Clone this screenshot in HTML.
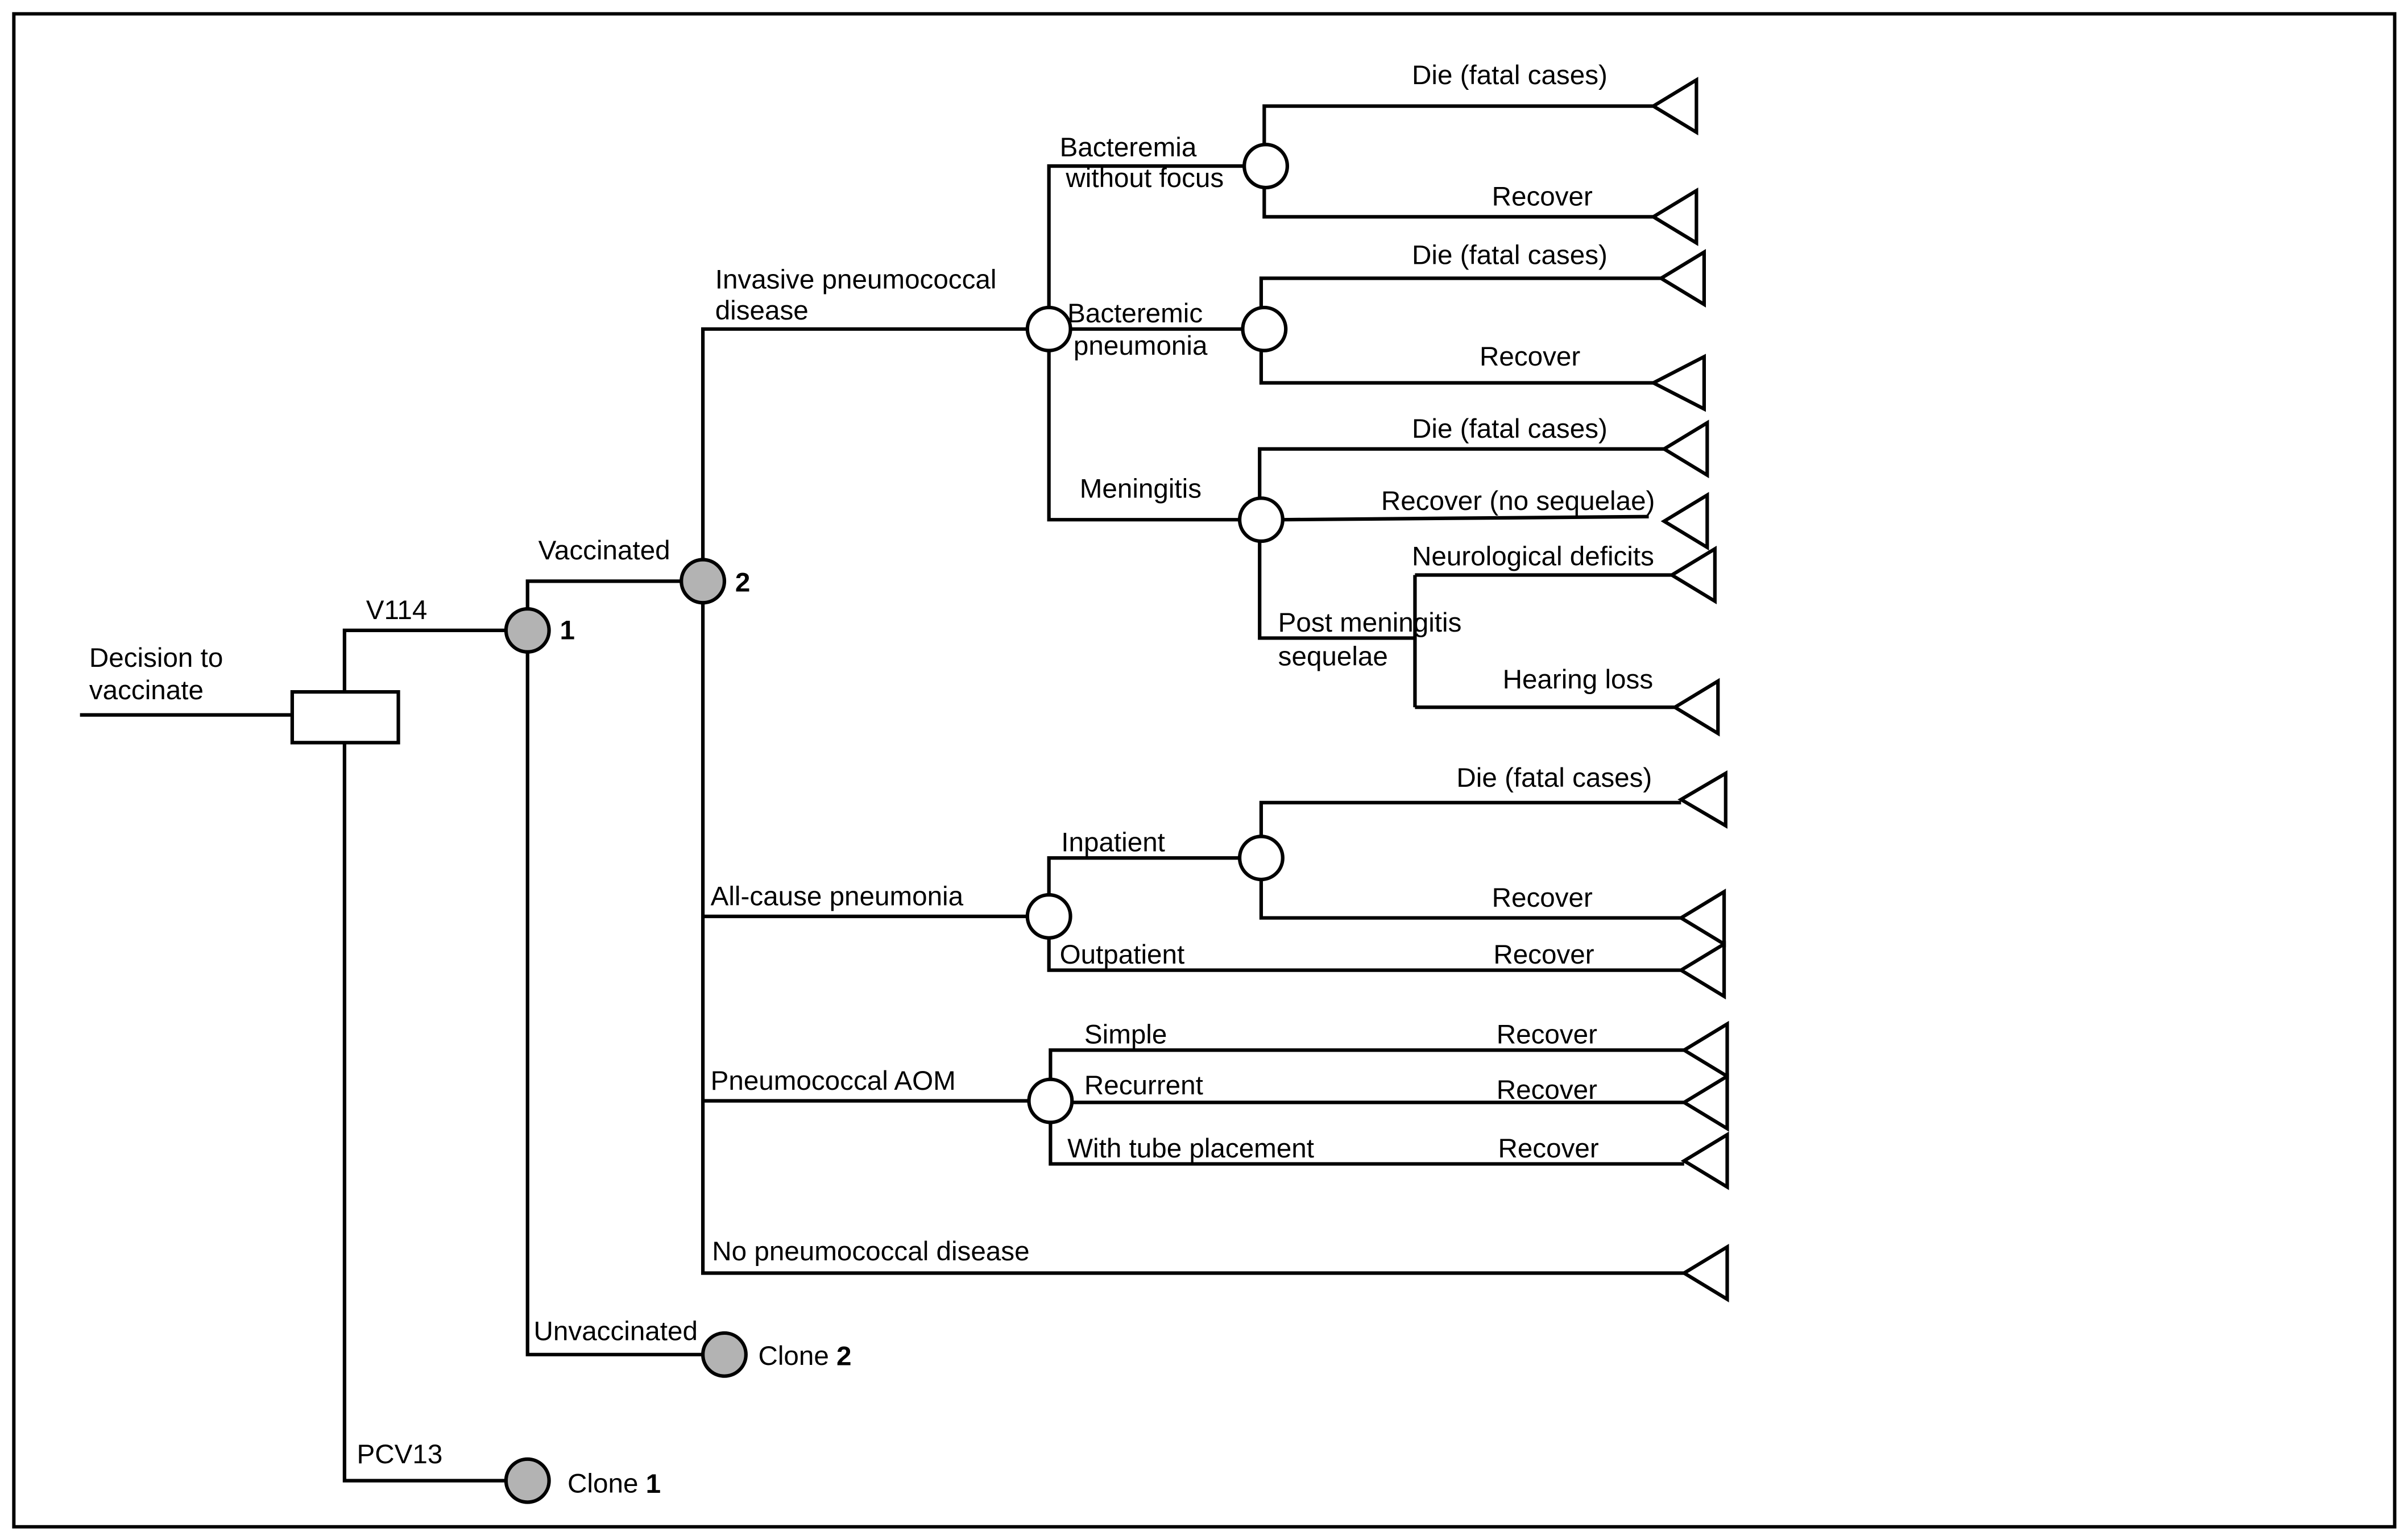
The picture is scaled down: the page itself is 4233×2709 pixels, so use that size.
<!DOCTYPE html>
<html><head><meta charset="utf-8"><style>html,body{margin:0;padding:0;background:#fff}svg{display:block}</style></head>
<body>
<svg width="4233" height="2709" viewBox="0 0 1565 1001.6" preserveAspectRatio="none" xmlns="http://www.w3.org/2000/svg">
<rect x="0" y="0" width="1565" height="1002" fill="#fff"/>
<rect x="9" y="9" width="1548" height="984" fill="none" stroke="#000" stroke-width="2.2"/>
<g fill="none" stroke="#000" stroke-width="2.3">
<path d="M52 465H190"/>
<path d="M224 450V410H328M224 483V963H329"/>
<path d="M343 396V378H442M343 424V881H457"/>
<path d="M457 364V214H668M457 392V828H1095M457 596H668M457 716H669"/>
<path d="M682 200V108H809M696 214H808M682 228V338H806"/>
<path d="M822 94V69H1075M822 122V141H1075"/>
<path d="M820 200V181H1080M820 228V249H1075"/>
<path d="M819 324V292H1082M834 338L1072 336M819 352V415H920M920 374V460M920 374H1087M920 460H1089"/>
<path d="M682 582V558H806M682 610V631H1093M820 544V522H1093M820 572V597H1093"/>
<path d="M683 702V683H1095M697 717H1095M683 730V757H1095"/>
</g>
<rect x="190" y="450" width="69" height="33" fill="#fff" stroke="#000" stroke-width="2.3"/>
<g stroke="#000" stroke-width="2.3">
<circle cx="343" cy="410" r="14" fill="#b3b3b3"/>
<circle cx="457" cy="378" r="14" fill="#b3b3b3"/>
<circle cx="471" cy="881" r="14" fill="#b3b3b3"/>
<circle cx="343" cy="963" r="14" fill="#b3b3b3"/>
<g fill="#fff">
<circle cx="682" cy="214" r="14"/><circle cx="823" cy="108" r="14"/><circle cx="822" cy="214" r="14"/>
<circle cx="820" cy="338" r="14"/><circle cx="682" cy="596" r="14"/><circle cx="820" cy="558" r="14"/>
<circle cx="683" cy="716" r="14"/>
</g>
<g fill="#fff">
<polygon points="1075,69 1103,52 1103,86"/><polygon points="1075,141 1103,124 1103,158"/>
<polygon points="1080,181 1108,164 1108,198"/><polygon points="1075,249 1108,232 1108,266"/>
<polygon points="1082,292 1110,275 1110,309"/><polygon points="1082,339 1110,322 1110,356"/>
<polygon points="1087,374 1115,357 1115,391"/><polygon points="1089,460 1117,443 1117,477"/>
<polygon points="1093,520 1122,503 1122,537"/><polygon points="1093,597 1121,580 1121,614"/>
<polygon points="1093,631 1121,614 1121,648"/><polygon points="1095,683 1123,666 1123,700"/>
<polygon points="1095,717 1123,700 1123,734"/><polygon points="1095,755 1123,738 1123,772"/>
<polygon points="1095,828 1123,811 1123,845"/>
</g>
</g>
<g font-family="Liberation Sans, Arial, sans-serif" font-size="17.6" fill="#000" dominant-baseline="central">
<text x="58" y="428">Decision to</text><text x="58" y="449">vaccinate</text>
<text x="238" y="397">V114</text><text x="232" y="946">PCV13</text>
<text x="364" y="410" font-weight="bold">1</text><text x="478" y="379" font-weight="bold">2</text>
<text x="369" y="965">Clone <tspan font-weight="bold">1</tspan></text>
<text x="493" y="882">Clone <tspan font-weight="bold">2</tspan></text>
<text x="350" y="358">Vaccinated</text><text x="347" y="866">Unvaccinated</text>
<text x="465" y="182">Invasive pneumococcal</text><text x="465" y="202">disease</text>
<text x="462" y="583">All-cause pneumonia</text><text x="462" y="703">Pneumococcal AOM</text>
<text x="463" y="814">No pneumococcal disease</text>
<text x="689" y="96">Bacteremia</text><text x="693" y="116">without focus</text>
<text x="694" y="204">Bacteremic</text><text x="698" y="225">pneumonia</text>
<text x="702" y="318">Meningitis</text>
<text x="918" y="49">Die (fatal cases)</text><text x="970" y="128">Recover</text>
<text x="918" y="166">Die (fatal cases)</text><text x="962" y="232">Recover</text>
<text x="918" y="279">Die (fatal cases)</text><text x="898" y="326">Recover (no sequelae)</text>
<text x="918" y="362">Neurological deficits</text>
<text x="831" y="405">Post meningitis</text><text x="831" y="427">sequelae</text>
<text x="977" y="442">Hearing loss</text>
<text x="690" y="548">Inpatient</text><text x="947" y="506">Die (fatal cases)</text>
<text x="970" y="584">Recover</text><text x="689" y="621">Outpatient</text><text x="971" y="621">Recover</text>
<text x="705" y="673">Simple</text><text x="973" y="673">Recover</text>
<text x="705" y="706">Recurrent</text><text x="973" y="709">Recover</text>
<text x="694" y="747">With tube placement</text><text x="974" y="747">Recover</text>
</g>
</svg>
</body></html>
